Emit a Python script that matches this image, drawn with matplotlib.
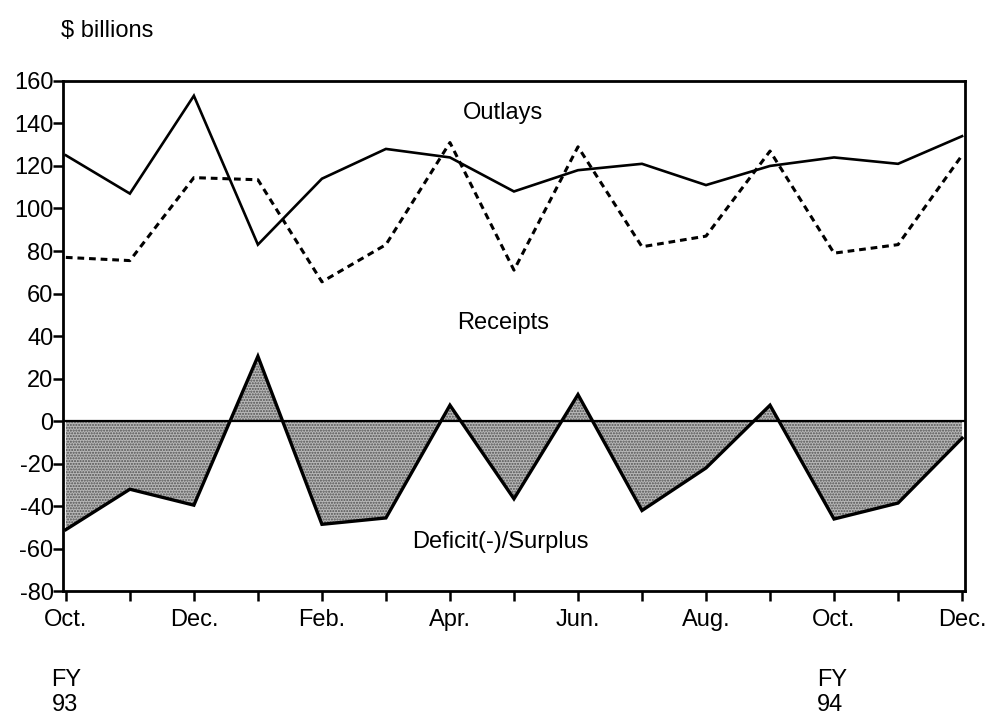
import numpy as np
import matplotlib.pyplot as plt

plt.rcParams['font.family'] = ['Liberation Sans', 'DejaVu Sans']
plt.rcParams['axes.unicode_minus'] = False

months = ['Oct.', 'Nov.', 'Dec.', 'Jan.', 'Feb.', 'Mar.', 'Apr.', 'May',
          'Jun.', 'Jul.', 'Aug.', 'Sep.', 'Oct.', 'Nov.', 'Dec.']
outlays = [125, 107, 153, 83, 114, 128, 124, 108, 118, 121, 111, 120, 124, 121, 134]
receipts = [77, 75.5, 114.5, 113.5, 65.5, 83, 131, 71, 129, 82, 87, 127, 79, 83, 125]
deficit = [-51, -32, -39.5, 30.5, -48.5, -45.5, 7.5, -36.5, 12.5, -42, -22, 7.5, -46, -38.5, -8]
yticks = [-80, -60, -40, -20, 0, 20, 40, 60, 80, 100, 120, 140, 160]

x = np.arange(len(months))
deficit = np.array(deficit)

fig = plt.figure(figsize=(9.89, 7.22), dpi=100)
ax = fig.add_axes([0.064, 0.181, 0.912, 0.707])

# shaded deficit/surplus area
ax.fill_between(x, deficit, 0, facecolor='#b8b8b8', edgecolor='#505050',
                hatch='......', linewidth=0, interpolate=True)
ax.axhline(0, color='black', lw=1.6)

ax.plot(x, outlays, color='black', lw=1.9, solid_joinstyle='miter')
ax.plot(x, receipts, color='black', lw=2.2, linestyle=(0, (2.2, 1.6)))
ax.plot(x, deficit, color='black', lw=2.4, solid_joinstyle='miter')

ax.set_xlim(-0.04, 14.05)
ax.set_ylim(-80, 160)
ax.set_yticks(yticks)
ax.set_xticks(x)
ax.set_xticklabels([m if i % 2 == 0 else '' for i, m in enumerate(months)])
ax.tick_params(axis='both', direction='out', length=7, width=1.8,
               labelsize=17, pad=0)
ax.tick_params(axis='x', pad=6)
for s in ax.spines.values():
    s.set_linewidth(2)

ax.text(6.83, 145, 'Outlays', fontsize=17, ha='center', va='center')
ax.text(6.83, 46, 'Receipts', fontsize=17, ha='center', va='center')
ax.text(6.78, -57, 'Deficit(-)/Surplus', fontsize=17, ha='center', va='center')

fig.text(0.062, 0.957, '$ billions', fontsize=17, ha='left', va='center')
fig.text(0.052, 0.041, 'FY\n93', fontsize=17, ha='left', va='center', linespacing=1.2)
fig.text(0.826, 0.041, 'FY\n94', fontsize=17, ha='left', va='center', linespacing=1.2)

fig.savefig('out.png', dpi=100)
